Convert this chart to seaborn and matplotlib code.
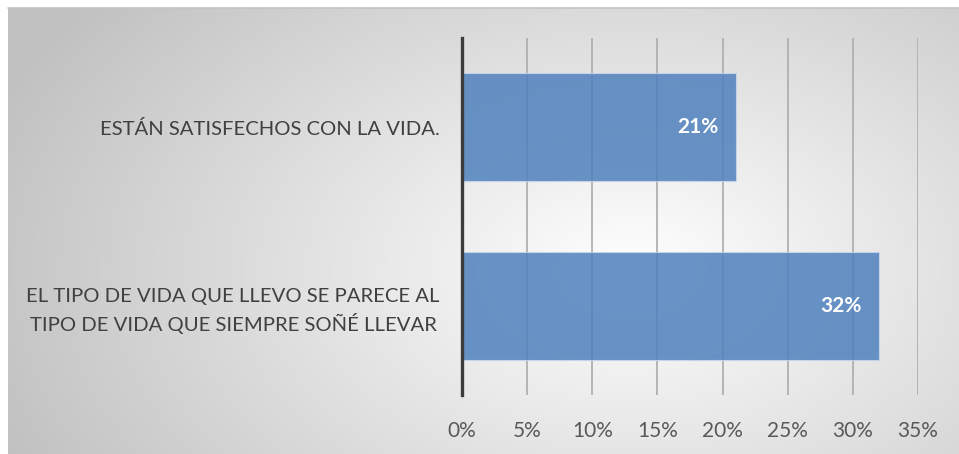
import numpy as np
import pandas as pd
import matplotlib
matplotlib.use("Agg")
import matplotlib.pyplot as plt
import seaborn as sns

categories = ["ESTÁN SATISFECHOS CON LA VIDA.",
              "EL TIPO DE VIDA QUE LLEVO SE PARECE AL\nTIPO DE VIDA QUE SIEMPRE SOÑÉ LLEVAR"]
values = [0.21, 0.32]
value_labels = ["21%", "32%"]
xticks = [0, 0.05, 0.10, 0.15, 0.20, 0.25, 0.30, 0.35]
xtick_labels = ["0%", "5%", "10%", "15%", "20%", "25%", "30%", "35%"]

sns.set_theme(style="white")
plt.rcParams['font.family'] = ['Lato', 'DejaVu Sans']

W, H = 959, 454
fig = plt.figure(figsize=(W / 100, H / 100), dpi=100)
fig.patch.set_facecolor("white")

# radial gradient background
bg = fig.add_axes([8 / W, 0, (W - 8) / W, (H - 8) / H])
bg.set_axis_off()
yy, xx = np.mgrid[8:H, 8:W]
cx, cy = 630, 270
r = np.sqrt(((xx - cx) / 620.0) ** 2 + ((yy - cy) / 400.0) ** 2)
v = 1.0 - 0.22 * np.clip(r, 0, 1.2)
v = np.clip(v, 0.76, 1.0)
img = np.dstack([v, v, v])
bg.imshow(img, aspect="auto", extent=[0, 1, 0, 1], interpolation="bilinear")
bg.set_xlim(0, 1)
bg.set_ylim(0, 1)
bg.plot([0, 1], [1, 1], color="#c4c4c4", lw=1.2, transform=bg.transAxes, clip_on=False)

ax = fig.add_axes([462 / W, (H - 395) / H, 456 / W, (395 - 38) / H])
ax.set_facecolor("none")

df = pd.DataFrame({"cat": categories, "val": values})
sns.barplot(data=df, x="val", y="cat", orient="h", ax=ax, color="#4f81bd",
            width=0.605, saturation=1, alpha=0.85, edgecolor="#c9d7ec", linewidth=0.8,
            zorder=3)

ax.set_xlim(0, 0.35)
ax.set_xticks(xticks)
ax.set_xticklabels(xtick_labels, fontsize=15, color="#595959")
ax.tick_params(axis="x", length=0, pad=19)
ax.tick_params(axis="y", length=0, pad=(462 - 440) * 0.72)
for lbl in ax.get_yticklabels():
    lbl.set_fontsize(14.6)
    lbl.set_color("#404040")
    lbl.set_linespacing(1.45)
    lbl.set_multialignment("center")
ax.set_xlabel("")
ax.set_ylabel("")

ax.grid(axis="x", color="#b0b0b0", linewidth=1.3, zorder=1)
ax.set_axisbelow(True)
for s in ["top", "right", "bottom"]:
    ax.spines[s].set_visible(False)
ax.spines["left"].set_color("#3c3c3c")
ax.spines["left"].set_linewidth(2.4)
ax.spines["left"].set_zorder(5)

for i, (val, txt) in enumerate(zip(values, value_labels)):
    ax.annotate(txt, xy=(val, i), xytext=(-17, 0), textcoords="offset pixels",
                ha="right", va="center", color="white", fontsize=15,
                fontweight="bold", zorder=6)

fig.savefig("out.png", dpi=100)
